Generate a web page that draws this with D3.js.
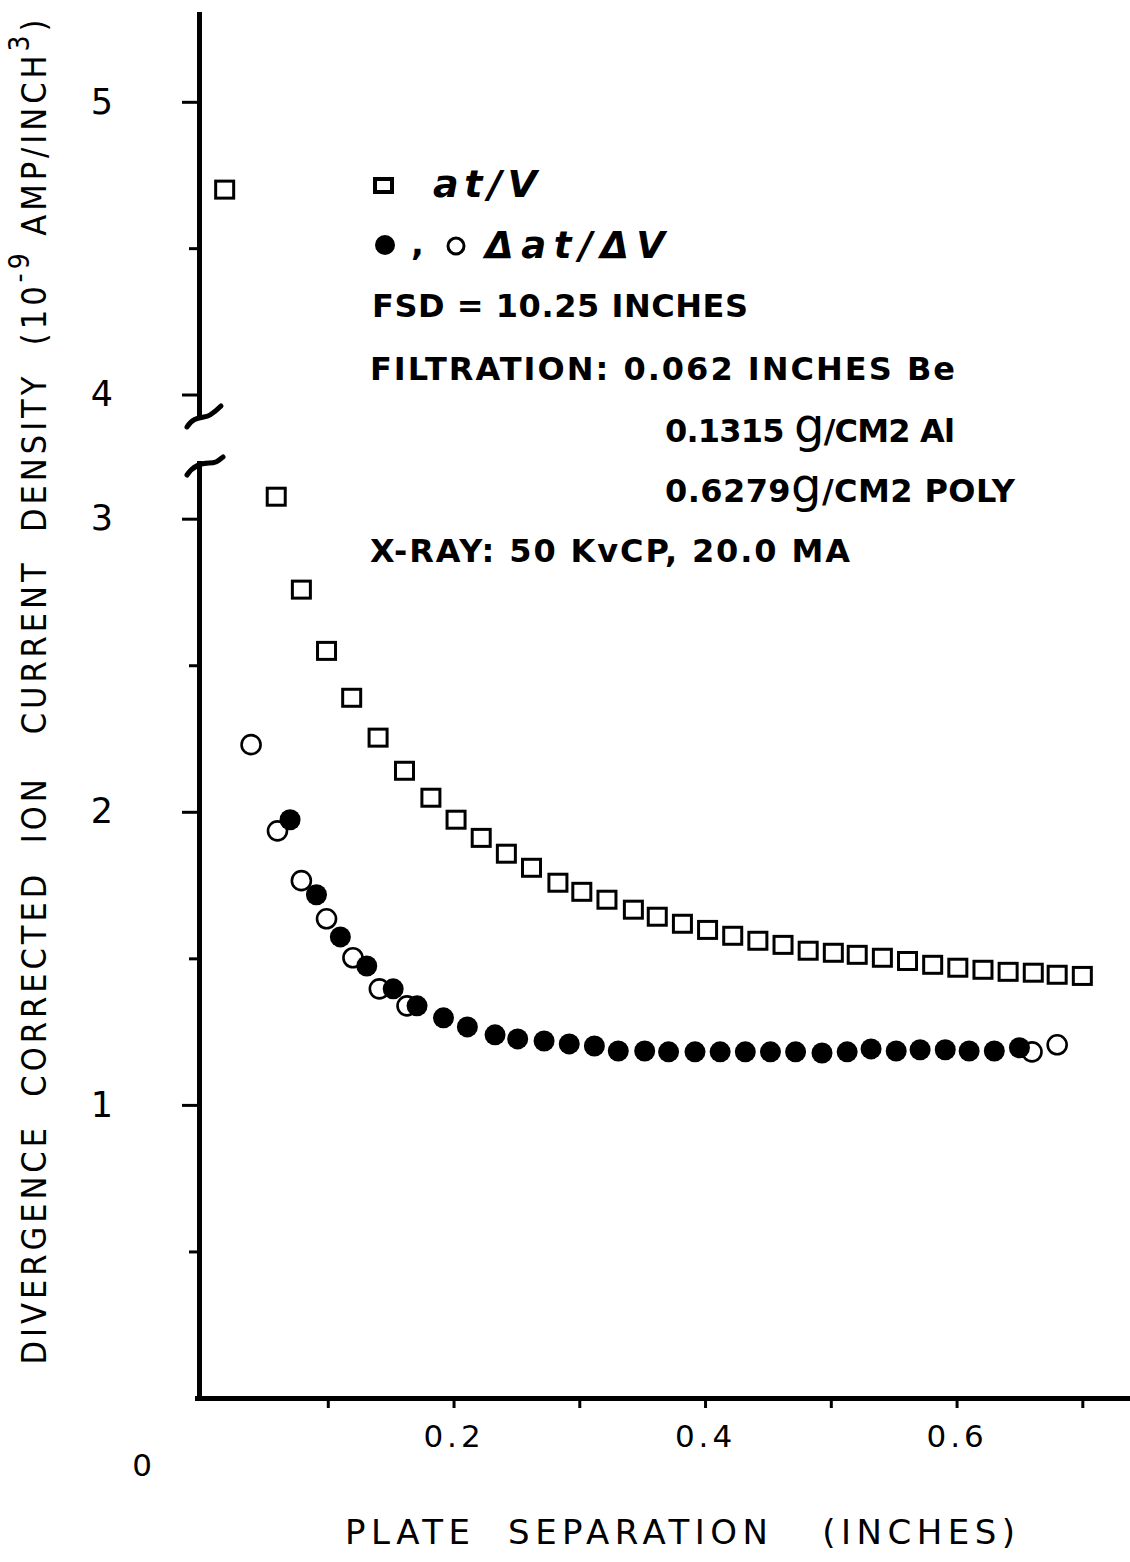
<!DOCTYPE html>
<meta charset="utf-8">
<script src="https://d3js.org/d3.v7.min.js"></script>
<style>
  body { margin: 0; background: #fff; }
  svg text { font-family: "DejaVu Sans", sans-serif; fill: #000; }
</style>

<div id="chart"></div>

<script>
// at/V (squares)
var sqX = [0.018, 0.059, 0.079, 0.099, 0.119, 0.140, 0.161, 0.182, 0.202, 0.222, 0.242, 0.262,
           0.283, 0.302, 0.322, 0.343, 0.362, 0.382, 0.402, 0.422, 0.442, 0.462, 0.482, 0.502,
           0.521, 0.541, 0.561, 0.581, 0.601, 0.621, 0.641, 0.661, 0.680, 0.700];
var sqY = [4.70, 3.075, 2.758, 2.549, 2.389, 2.253, 2.140, 2.048, 1.973, 1.911, 1.857, 1.809,
           1.758, 1.727, 1.700, 1.666, 1.642, 1.618, 1.597, 1.577, 1.560, 1.546, 1.526, 1.519,
           1.512, 1.502, 1.491, 1.478, 1.468, 1.461, 1.454, 1.451, 1.444, 1.440];

// delta at / delta V, filled circles
var fillX = [0.070, 0.091, 0.110, 0.131, 0.152, 0.171, 0.192, 0.211, 0.233, 0.251, 0.272, 0.292,
             0.312, 0.331, 0.352, 0.371, 0.392, 0.412, 0.432, 0.452, 0.472, 0.493, 0.513, 0.532,
             0.552, 0.571, 0.591, 0.610, 0.630, 0.650];
var fillY = [1.973, 1.717, 1.573, 1.474, 1.396, 1.338, 1.297, 1.266, 1.239, 1.225, 1.218, 1.208,
             1.201, 1.184, 1.184, 1.181, 1.181, 1.181, 1.181, 1.181, 1.181, 1.177, 1.181, 1.191,
             1.184, 1.188, 1.188, 1.184, 1.184, 1.195];

// delta at / delta V, open circles
var openX = [0.039, 0.060, 0.079, 0.099, 0.120, 0.141, 0.163, 0.660, 0.680];
var openY = [2.229, 1.935, 1.765, 1.635, 1.502, 1.396, 1.338, 1.181, 1.205];

var xTicks = [0.1, 0.2, 0.3, 0.4, 0.5, 0.6, 0.7];
var xTickLabels = ["", "0.2", "", "0.4", "", "0.6", ""];
var yUpMajor = [4, 5], yUpMinor = [4.5];
var yLoMajor = [1, 2, 3], yLoMinor = [0.5, 1.5, 2.5];
var yTickLabels = {1: "1", 2: "2", 3: "3", 4: "4", 5: "5"};

var legend1 = "at/V";
var legend2 = "\u0394at/\u0394V";
var noteLines = ["FSD = 10.25 INCHES", "FILTRATION: 0.062 INCHES Be", "0.1315 g/CM2 Al",
                 "0.6279g/CM2 POLY", "X-RAY: 50 KvCP, 20.0 MA"];

var yTitle = ["DIVERGENCE  CORRECTED  ION   CURRENT  DENSITY  (10", "-9", " AMP/INCH", "3", ")"];
var xTitle = "PLATE  SEPARATION   (INCHES)";

var W = 1130, H = 1562;
var svg = d3.select("#chart").append("svg")
  .attr("width", W).attr("height", H);

// scales: the y axis is broken between 3.2 and 3.9
var x = d3.scaleLinear().domain([-0.004, 0.7395]).range([197, 1132]);
var yUp = d3.scaleLinear().domain([3.93, 5.30]).range([415, 14]);
var yLo = d3.scaleLinear().domain([0, 3.19]).range([1398, 463]);
function yv(v) { return v > 3.6 ? yUp(v) : yLo(v); }

var ax = x.range()[0] + 2;

function styleAxis(g, w) {
  g.select(".domain").attr("stroke", "#000").attr("stroke-width", w).attr("stroke-linecap", "square");
  g.selectAll(".tick line").attr("stroke", "#000").attr("stroke-width", 3);
}

// upper y axis
var gUp = svg.append("g").attr("transform", "translate(" + ax + ",0)")
  .call(d3.axisLeft(yUp).tickValues(yUpMajor).tickSize(17).tickSizeOuter(0)
    .tickFormat(function(d) { return yTickLabels[d]; }));
styleAxis(gUp, 5);
svg.append("g").attr("transform", "translate(" + ax + ",0)")
  .call(d3.axisLeft(yUp).tickValues(yUpMinor).tickSize(10).tickFormat(""))
  .call(function(g) { g.select(".domain").remove(); styleAxis(g, 5); });

// lower y axis
var gLo = svg.append("g").attr("transform", "translate(" + ax + ",0)")
  .call(d3.axisLeft(yLo).tickValues(yLoMajor).tickSize(17).tickSizeOuter(0)
    .tickFormat(function(d) { return yTickLabels[d]; }));
styleAxis(gLo, 5);
svg.append("g").attr("transform", "translate(" + ax + ",0)")
  .call(d3.axisLeft(yLo).tickValues(yLoMinor).tickSize(10).tickFormat(""))
  .call(function(g) { g.select(".domain").remove(); styleAxis(g, 5); });

svg.selectAll(".tick text")
  .attr("x", -97).attr("text-anchor", "middle")
  .style("font-size", "35px").style("font-family", "DejaVu Sans, sans-serif");

// axis break marks
var yb = yUp.range()[0], yl = yLo.range()[1];
svg.append("path")
  .attr("d", "M" + (ax - 12) + "," + (yb + 12) + " C" + (ax - 5) + "," + yb + " " + (ax + 5) + "," + (yb + 4) + " " + (ax + 11) + "," + yb +
             " S" + (ax + 19) + "," + (yb - 6) + " " + (ax + 22) + "," + (yb - 9))
  .attr("fill", "none").attr("stroke", "#000").attr("stroke-width", 5).attr("stroke-linecap", "round");
svg.append("path")
  .attr("d", "M" + (ax - 12) + "," + (yl + 12) + " C" + (ax - 6) + "," + (yl + 3) + " " + (ax + 2) + "," + yl + " " + (ax + 10) + "," + yl +
             " S" + (ax + 20) + "," + (yl - 3) + " " + (ax + 24) + "," + (yl - 6))
  .attr("fill", "none").attr("stroke", "#000").attr("stroke-width", 5).attr("stroke-linecap", "round");

// x axis
var gx = svg.append("g").attr("transform", "translate(0," + yLo(0) + ")")
  .call(d3.axisBottom(x).tickValues(xTicks).tickSize(10).tickSizeOuter(0).tickPadding(17)
    .tickFormat(function(d, i) { return xTickLabels[i]; }));
styleAxis(gx, 5);
gx.selectAll("text").style("font-size", "31px").style("letter-spacing", "4px")
  .style("font-family", "DejaVu Sans, sans-serif");

svg.append("text").attr("x", x(0) - 60).attr("y", yLo(0) + 78)
  .attr("text-anchor", "middle").style("font-size", "31px").text("0");

// data marks
svg.append("g").selectAll("circle").data(openX).join("circle")
  .attr("cx", function(d) { return x(d); })
  .attr("cy", function(d, i) { return yv(openY[i]); })
  .attr("r", 9.5).attr("fill", "#fff").attr("stroke", "#000").attr("stroke-width", 2.6);

svg.append("g").selectAll("circle").data(fillX).join("circle")
  .attr("cx", function(d) { return x(d); })
  .attr("cy", function(d, i) { return yv(fillY[i]); })
  .attr("r", 10.5).attr("fill", "#000");

svg.append("g").selectAll("rect").data(sqX).join("rect")
  .attr("x", function(d) { return x(d) - 9; })
  .attr("y", function(d, i) { return yv(sqY[i]) - 8.5; })
  .attr("width", 18).attr("height", 17)
  .attr("fill", "none").attr("stroke", "#000").attr("stroke-width", 3);

// legend
svg.append("rect").attr("x", 375).attr("y", 179).attr("width", 17).attr("height", 13)
  .attr("fill", "none").attr("stroke", "#000").attr("stroke-width", 4);
svg.append("text").attr("x", 433).attr("y", 197).attr("textLength", 104)
  .style("font-size", "38px").style("font-weight", "bold").style("font-style", "italic")
  .text(legend1);

svg.append("circle").attr("cx", 385).attr("cy", 245).attr("r", 10).attr("fill", "#000");
svg.append("text").attr("x", 411).attr("y", 255).style("font-size", "34px").style("font-weight", "bold").text(",");
svg.append("circle").attr("cx", 456).attr("cy", 246).attr("r", 8).attr("fill", "none")
  .attr("stroke", "#000").attr("stroke-width", 3);
svg.append("text").attr("x", 485).attr("y", 258).attr("textLength", 180)
  .style("font-size", "37px").style("font-weight", "bold").style("font-style", "italic")
  .text(legend2);

// notes
var noteLayout = [[372, 305, 376], [370, 368, 585], [665, 430, 290], [665, 490, 350], [370, 550, 480]];
noteLines.forEach(function(s, i) {
  var p = noteLayout[i];
  var t = svg.append("text").attr("x", p[0]).attr("y", p[1] + 12).attr("textLength", p[2])
    .attr("lengthAdjust", "spacing")
    .style("font-size", "32px").style("font-weight", "bold").style("white-space", "pre");
  var parts = s.split("g/");
  if (parts.length > 1) {
    t.append("tspan").text(parts[0]);
    t.append("tspan").style("font-size", "48px").style("font-weight", "normal").text("g");
    t.append("tspan").text("/" + parts[1]);
  } else {
    t.text(s);
  }
});

// axis titles
var yt = svg.append("text")
  .attr("transform", "translate(46," + 692 + ") rotate(-90)")
  .attr("text-anchor", "middle").attr("textLength", 1345).attr("lengthAdjust", "spacing")
  .style("font-size", "34px").style("font-family", "'DejaVu Sans Condensed', 'DejaVu Sans', sans-serif")
  .style("font-stretch", "condensed").style("white-space", "pre");
yt.append("tspan").text(yTitle[0]);
yt.append("tspan").attr("dy", "-0.6em").style("font-size", "28px").text(yTitle[1]);
yt.append("tspan").attr("dy", "0.5em").text(yTitle[2]);
yt.append("tspan").attr("dy", "-0.6em").style("font-size", "28px").text(yTitle[3]);
yt.append("tspan").attr("dy", "0.5em").text(yTitle[4]);

svg.append("text").attr("x", 680).attr("y", 1544)
  .attr("text-anchor", "middle").attr("textLength", 670).attr("lengthAdjust", "spacing")
  .style("font-size", "34px").style("white-space", "pre")
  .text(xTitle);
</script>
